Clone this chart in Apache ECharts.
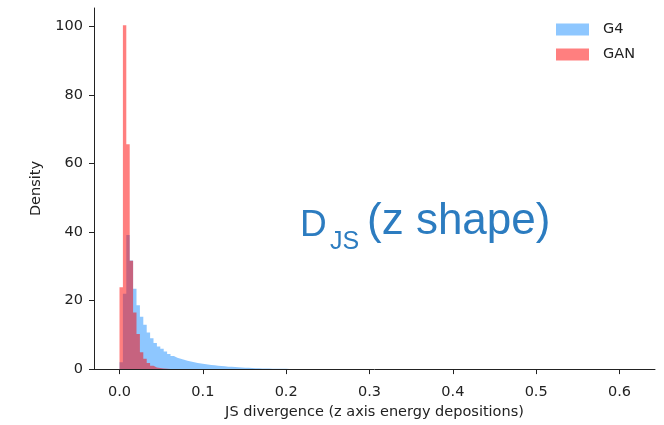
<!DOCTYPE html>
<html><head><meta charset="utf-8">
<script src="https://cdn.jsdelivr.net/npm/echarts@6/dist/echarts.min.js"></script>
<style>html,body{margin:0;padding:0;background:#fff}#c{width:664px;height:425px}</style>
</head><body><div id="c"></div>
<script>
// Histogram bins (density), bin width in JS-divergence units
const binStart = 0;
const binWidth = 0.00408;
const g4Density = [2, 22, 39.1, 31.7, 23.4, 18.6, 15.3, 12.9, 10.7, 9.0,
  7.6, 6.6, 5.9, 5.1, 4.4, 3.8, 3.3, 3.0, 2.7, 2.4,
  2.2, 2.0, 1.8, 1.6, 1.5, 1.35, 1.2, 1.1, 1.0, 0.9,
  0.8, 0.72, 0.65, 0.58, 0.52, 0.46, 0.41, 0.36, 0.32, 0.28,
  0.24, 0.2, 0.17, 0.14, 0.12, 0.1, 0.09, 0.08, 0.07, 0.06,
  0.05, 0.05, 0.04, 0.04, 0.03, 0.03, 0.03, 0.02, 0.02, 0.02,
  0.02, 0.01, 0.01, 0.01, 0.01, 0.01, 0.01, 0.005, 0.005, 0.005];
const ganDensity = [23.9, 100.3, 65.6, 31.6, 16.5, 10.2, 4.9, 3.0, 1.8, 1.0,
  0.5, 0.3, 0.2, 0.1, 0.05, 0.03];
const xTicks = [0, 0.1, 0.2, 0.3, 0.4, 0.5, 0.6];
const yTicks = [0, 20, 40, 60, 80, 100];
const seriesNames = ['G4', 'GAN'];
const xLabel = 'JS divergence (z axis energy depositions)';
const yLabel = 'Density';

function stepPoints(vals) {
  const pts = [[binStart, 0]];
  vals.forEach((v, i) => pts.push([binStart + i * binWidth, v]));
  pts.push([binStart + vals.length * binWidth, 0]);
  return pts;
}

const blue = 'rgba(30,144,255,0.5)';
const red = 'rgba(255,0,0,0.5)';
const axisColor = '#222';
const font = 'DejaVu Sans';
const noteColor = '#2c7cc0';

const chart = echarts.init(document.getElementById('c'), null, {renderer: 'canvas'});
chart.setOption({
  animation: false,
  grid: {left: 94, right: 9, top: 8, bottom: 52, containLabel: false},
  xAxis: {
    type: 'value', min: -0.0306, max: 0.6426,
    splitLine: {show: false},
    axisLine: {onZero: false, lineStyle: {color: axisColor, width: 1}},
    axisTick: {show: true, length: 5, customValues: xTicks, lineStyle: {color: axisColor}},
    axisLabel: {customValues: xTicks, margin: 16, color: axisColor, fontSize: 14.5, fontFamily: font,
      formatter: v => v.toFixed(1)},
    name: xLabel, nameLocation: 'middle', nameGap: 35,
    nameTextStyle: {color: axisColor, fontSize: 14.5, fontFamily: font}
  },
  yAxis: {
    type: 'value', min: 0, max: 105.3,
    splitLine: {show: false},
    axisLine: {show: true, onZero: false, lineStyle: {color: axisColor, width: 1}},
    axisTick: {show: true, length: 5, customValues: yTicks, lineStyle: {color: axisColor}},
    axisLabel: {customValues: yTicks, margin: 11, color: axisColor, fontSize: 14.5, fontFamily: font},
    name: yLabel, nameLocation: 'middle', nameGap: 50,
    nameTextStyle: {color: axisColor, fontSize: 14.5, fontFamily: font}
  },
  legend: {
    orient: 'vertical', left: 556, top: 21, padding: 0, itemWidth: 33, itemHeight: 12, itemGap: 8,
    icon: 'rect',
    textStyle: {color: axisColor, fontSize: 14.5, fontFamily: font, lineHeight: 17, padding: [0, 0, 0, 9]},
    data: [
      {name: seriesNames[0], itemStyle: {color: blue}},
      {name: seriesNames[1], itemStyle: {color: red}}
    ]
  },
  series: [
    {name: seriesNames[0], type: 'line', step: 'end', data: stepPoints(g4Density),
      showSymbol: false, symbol: 'none', lineStyle: {width: 0, opacity: 0},
      itemStyle: {color: blue}, areaStyle: {color: blue, opacity: 1}, z: 2},
    {name: seriesNames[1], type: 'line', step: 'end', data: stepPoints(ganDensity),
      showSymbol: false, symbol: 'none', lineStyle: {width: 0, opacity: 0},
      itemStyle: {color: red}, areaStyle: {color: red, opacity: 1}, z: 3}
  ],
  graphic: [
    {type: 'text', left: 300, top: 207, style: {text: 'D', font: '37px "Liberation Sans"', fill: noteColor}},
    {type: 'text', left: 330, top: 230, style: {text: 'JS', font: '25px "Liberation Sans"', fill: noteColor}},
    {type: 'text', left: 367, top: 200, style: {text: '(z shape)', font: '44px "Liberation Sans"', fill: noteColor}}
  ]
});
</script>
</body></html>
